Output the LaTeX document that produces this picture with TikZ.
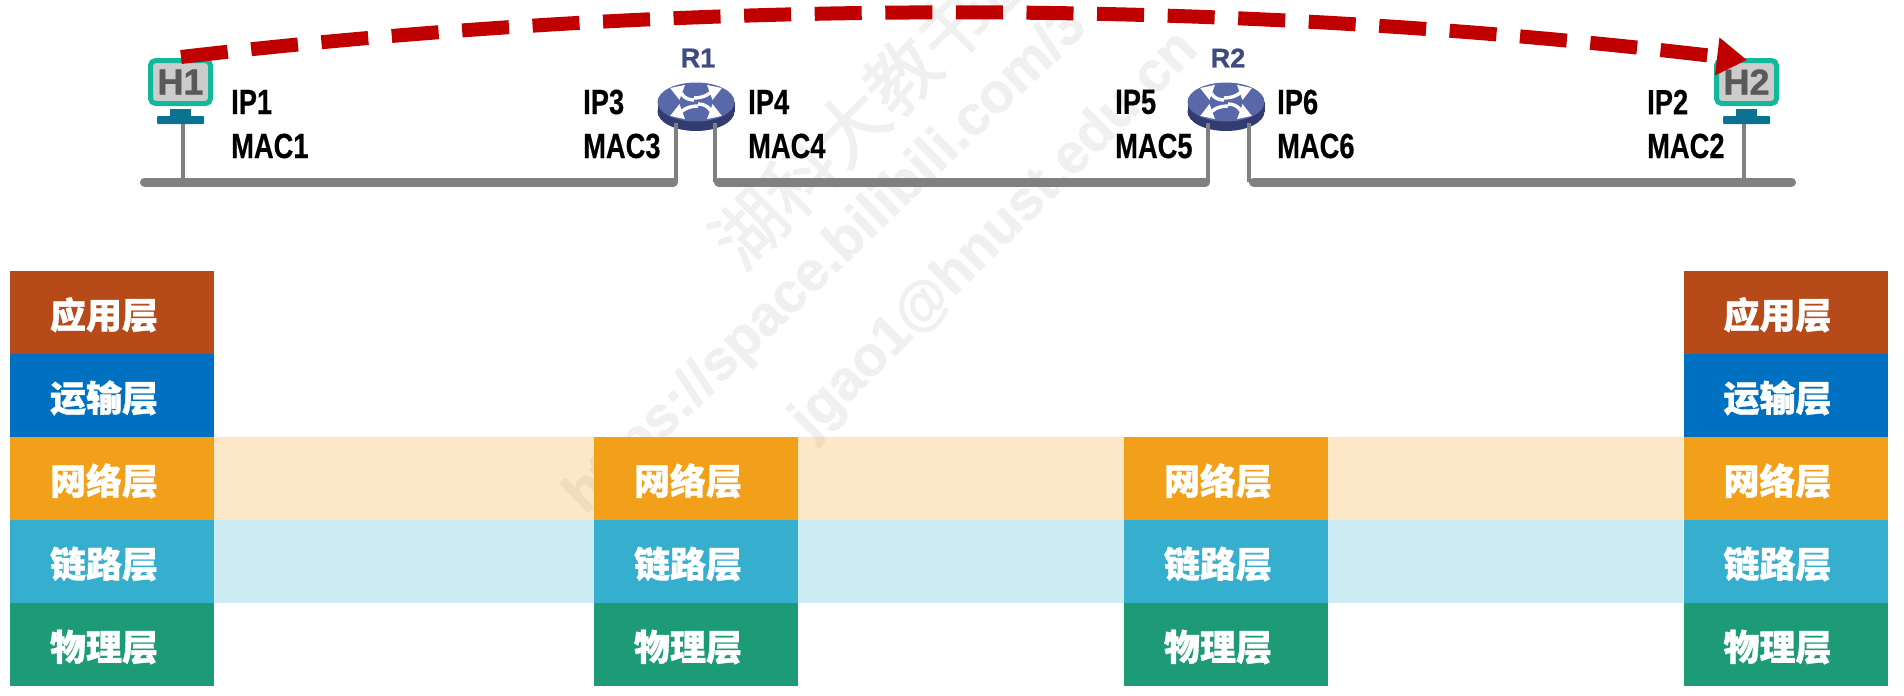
\documentclass[tikz,border=0pt]{standalone}
\usepackage{fontspec}
\setmainfont{Liberation Sans}
\newfontfamily\cjkfont[BoldFeatures={FakeBold=1}]{Noto Sans CJK SC}
\newfontfamily\wmfont[FakeBold=1.5]{Noto Sans CJK SC}
\newfontfamily\labelfont[FakeStretch=0.78,BoldFeatures={FakeBold=0.4}]{Liberation Sans}
\newfontfamily\heavyfont[BoldFeatures={FakeBold=1}]{Liberation Sans}
\usetikzlibrary{arrows.meta}
\definecolor{figApp}{HTML}{B64A18}
\definecolor{figTrans}{HTML}{0070C0}
\definecolor{figNet}{HTML}{F29F1A}
\definecolor{figLink}{HTML}{36AECE}
\definecolor{figPhy}{HTML}{1C9B76}
\definecolor{figHost}{HTML}{12B89A}
\definecolor{figStand}{HTML}{0B7291}
\definecolor{figBus}{HTML}{808080}
\definecolor{figArc}{HTML}{C00000}
\definecolor{figRouter}{HTML}{3F4A80}
\definecolor{figRouterTop}{HTML}{5968A8}
\definecolor{figRouterSide}{HTML}{333C70}
\tikzset{
  layerbox/.style={minimum width=204,minimum height=83,inner sep=0,text=white,text height=36,text depth=4,execute at end node=\hspace*{16pt},font=\cjkfont\bfseries\fontsize{36}{36}\selectfont},
  addr/.style={anchor=west,inner sep=0,font=\labelfont\bfseries\fontsize{35}{35}\selectfont},
  host/.style={draw=figHost,fill=black!20,line width=5,rounded corners=5,minimum width=60,minimum height=43,inner sep=0,text=black!65,font=\heavyfont\bfseries\fontsize{36}{36}\selectfont},
  bus/.style={figBus,line width=9,line cap=round,shorten <=4.5,shorten >=4.5},
  drop/.style={figBus,line width=3.2},
  wmark/.style={black!6,rotate=45,inner sep=0,font=\heavyfont\bfseries\fontsize{56}{56}\selectfont},
  rname/.style={figRouter,inner sep=0,font=\heavyfont\bfseries\fontsize{27}{27}\selectfont},
  rarrow/.style={white,line width=3.4,-{Triangle[length=13,width=15]}},
  pics/routerbody/.style={code={
    \fill[figRouterSide] (0,9.5) ellipse[x radius=38.5,y radius=19.5];
    \fill[figRouterSide] (-38.5,0) rectangle (38.5,9.5);
    \fill[figRouterTop] (0,0) ellipse[x radius=38.5,y radius=19.5];
    \draw[rarrow] (-2,-2) to[out=180,in=-20] (-26,-14);
    \draw[rarrow] (-2,-4) to[out=0,in=200] (26,-14);
    \draw[rarrow] (2,4) to[out=180,in=20] (-26,14);
    \draw[rarrow] (2,2) to[out=0,in=160] (26,14);
  }},
}

\begin{document}
\begin{tikzpicture}[x=1pt,y=-1pt]
\useasboundingbox (0,0) rectangle (1904,696);
% watermark
\node[wmark,font=\wmfont\fontsize{72}{72}\selectfont] (wmA) at (876,101) {湖科大教书匠};
\node[wmark,anchor=west,rotate=-1] (wmB) at (575,505) {https://space.bilibili.com/3};
\node[wmark,anchor=west] (wmC) at (801,430) {jgao1@hnust.edu.cn};
% layers
\foreach \col/\cx in {a/112,b/696,c/1226,d/1785.5}{
  \node[layerbox,fill=figNet] (net\col) at (\cx,478.5) {网络层};
  \node[layerbox,fill=figLink] (link\col) at (\cx,561.5) {链路层};
  \node[layerbox,fill=figPhy] (phy\col) at (\cx,644.5) {物理层};
}
\foreach \col/\cx in {a/112,d/1785.5}{
  \node[layerbox,fill=figApp] (app\col) at (\cx,312.5) {应用层};
  \node[layerbox,fill=figTrans] (trans\col) at (\cx,395.5) {运输层};
}
\foreach \u/\v in {a/b,b/c,c/d}{
  \fill[figNet,opacity=0.25] (net\u.north east) rectangle (net\v.south west);
  \fill[figLink,opacity=0.25] (link\u.north east) rectangle (link\v.south west);
}
% hosts
\node[host] (H1) at (180.5,82) {H1};
\node[host] (H2) at (1746.5,82) {H2};
\foreach \h in {H1,H2}{
  \fill[figStand] ([xshift=-10.5,yshift=-3]\h.south) rectangle ([xshift=10.5,yshift=-11]\h.south);
  \fill[figStand,rounded corners=1] ([xshift=-23.5,yshift=-10]\h.south) rectangle ([xshift=23.5,yshift=-18]\h.south);
}
% routers
\coordinate (R1) at (696,102);
\coordinate (R2) at (1226,102);
\pic at (R1) {routerbody};
\pic at (R2) {routerbody};
\node[rname] (nameR1) at (698,58) {R1};
\node[rname] (nameR2) at (1228,58) {R2};
% links
\coordinate (busAl) at (140,182);
\coordinate (busAr) at (678,182);
\coordinate (busBl) at (714,182);
\coordinate (busBr) at (1210,182);
\coordinate (busCl) at (1249,182);
\coordinate (busCr) at (1796,182);
\draw[bus] (busAl) -- (busAr);
\draw[bus] (busBl) -- (busBr);
\draw[bus] (busCl) -- (busCr);
\draw[drop] ([xshift=2.5,yshift=-18]H1.south) -- ([xshift=2.5,yshift=-76]H1.south);
\draw[drop] ([xshift=-2.5,yshift=-18]H2.south) -- ([xshift=-2.5,yshift=-76]H2.south);
\draw[drop] ([xshift=-20,yshift=-21]R1) -- ([xshift=-20,yshift=-80]R1);
\draw[drop] ([xshift=19,yshift=-21]R1) -- ([xshift=19,yshift=-80]R1);
\draw[drop] ([xshift=-18,yshift=-21]R2) -- ([xshift=-18,yshift=-80]R2);
\draw[drop] ([xshift=23,yshift=-21]R2) -- ([xshift=23,yshift=-80]R2);
% addresses
\foreach \n/\x/\ip/\mac in {a/231/IP1/MAC1,b/583/IP3/MAC3,c/748/IP4/MAC4,d/1115/IP5/MAC5,e/1277/IP6/MAC6,f/1647/IP2/MAC2}{
  \node[addr] (ip\n) at (\x,102) {\ip};
  \node[addr] (mac\n) at (\x,146) {\mac};
}
% path of the packet
\coordinate (arcS) at (181,57);
\coordinate (arcE) at (1747,60);
\draw[figArc,line width=14,dash pattern=on 47 off 23.6,-{Triangle[length=30,width=36]}] (arcS) .. controls (700,-3) and (1222,-2) .. (arcE);
\end{tikzpicture}
\end{document}
